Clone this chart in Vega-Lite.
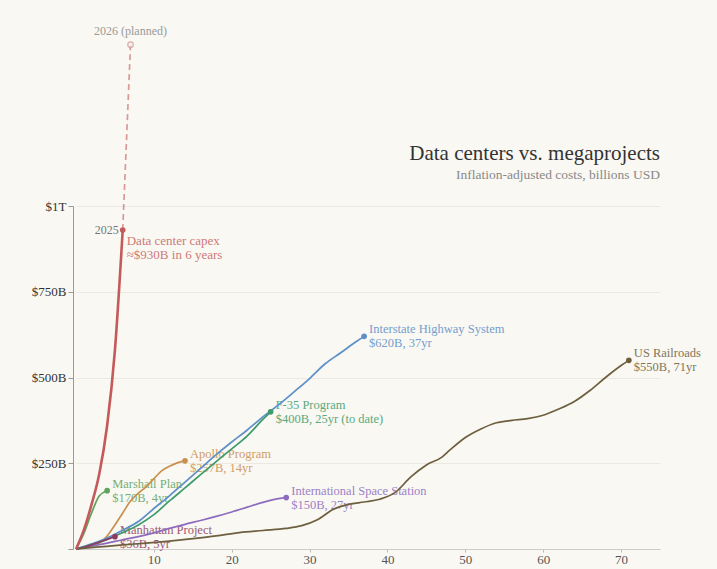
{
  "$schema": "https://vega.github.io/schema/vega-lite/v6.json",
  "width": 584,
  "height": 343,
  "autosize": {"type": "none"},
  "padding": {"left": 76, "top": 206, "right": 57, "bottom": 20},
  "background": "#f9f8f3",
  "title": {
    "text": "Data centers vs. megaprojects",
    "subtitle": "Inflation-adjusted costs, billions USD",
    "anchor": "end",
    "frame": "group",
    "font": "Liberation Serif",
    "fontSize": 21,
    "fontWeight": "normal",
    "color": "#333333",
    "subtitleFont": "Liberation Serif",
    "subtitleFontSize": 13.5,
    "subtitleColor": "#888888",
    "subtitlePadding": 4,
    "offset": -157
  },
  "config": {
    "view": {"stroke": null},
    "axis": {"labelFont": "Liberation Serif", "title": null}
  },
  "datasets": {
    "lines": [
      {"project": "Data center capex", "year": 0, "value": 0},
      {"project": "Data center capex", "year": 1, "value": 55},
      {"project": "Data center capex", "year": 2, "value": 130},
      {"project": "Data center capex", "year": 3, "value": 220},
      {"project": "Data center capex", "year": 4, "value": 360},
      {"project": "Data center capex", "year": 5, "value": 580},
      {"project": "Data center capex", "year": 6, "value": 930},
      {"project": "Marshall Plan", "year": 0, "value": 0},
      {"project": "Marshall Plan", "year": 1, "value": 45},
      {"project": "Marshall Plan", "year": 2, "value": 105},
      {"project": "Marshall Plan", "year": 3, "value": 155},
      {"project": "Marshall Plan", "year": 4, "value": 170},
      {"project": "Apollo Program", "year": 0, "value": 0},
      {"project": "Apollo Program", "year": 1, "value": 3},
      {"project": "Apollo Program", "year": 2, "value": 8},
      {"project": "Apollo Program", "year": 3, "value": 18},
      {"project": "Apollo Program", "year": 4, "value": 38},
      {"project": "Apollo Program", "year": 5, "value": 70},
      {"project": "Apollo Program", "year": 6, "value": 105},
      {"project": "Apollo Program", "year": 7, "value": 140},
      {"project": "Apollo Program", "year": 8, "value": 163},
      {"project": "Apollo Program", "year": 9, "value": 181},
      {"project": "Apollo Program", "year": 10, "value": 205},
      {"project": "Apollo Program", "year": 11, "value": 228},
      {"project": "Apollo Program", "year": 12, "value": 241},
      {"project": "Apollo Program", "year": 13, "value": 251},
      {"project": "Apollo Program", "year": 14, "value": 257},
      {"project": "Interstate Highway System", "year": 0, "value": 0},
      {"project": "Interstate Highway System", "year": 2, "value": 15},
      {"project": "Interstate Highway System", "year": 4, "value": 32},
      {"project": "Interstate Highway System", "year": 6, "value": 55},
      {"project": "Interstate Highway System", "year": 8, "value": 80},
      {"project": "Interstate Highway System", "year": 10, "value": 118},
      {"project": "Interstate Highway System", "year": 12, "value": 155},
      {"project": "Interstate Highway System", "year": 14, "value": 195},
      {"project": "Interstate Highway System", "year": 16, "value": 235},
      {"project": "Interstate Highway System", "year": 18, "value": 275},
      {"project": "Interstate Highway System", "year": 20, "value": 312},
      {"project": "Interstate Highway System", "year": 22, "value": 347},
      {"project": "Interstate Highway System", "year": 24, "value": 385},
      {"project": "Interstate Highway System", "year": 26, "value": 420},
      {"project": "Interstate Highway System", "year": 28, "value": 458},
      {"project": "Interstate Highway System", "year": 30, "value": 497},
      {"project": "Interstate Highway System", "year": 32, "value": 540},
      {"project": "Interstate Highway System", "year": 34, "value": 572},
      {"project": "Interstate Highway System", "year": 36, "value": 605},
      {"project": "Interstate Highway System", "year": 37, "value": 620},
      {"project": "F-35 Program", "year": 0, "value": 0},
      {"project": "F-35 Program", "year": 2, "value": 12},
      {"project": "F-35 Program", "year": 4, "value": 28},
      {"project": "F-35 Program", "year": 6, "value": 48},
      {"project": "F-35 Program", "year": 8, "value": 70},
      {"project": "F-35 Program", "year": 10, "value": 100},
      {"project": "F-35 Program", "year": 12, "value": 140},
      {"project": "F-35 Program", "year": 14, "value": 178},
      {"project": "F-35 Program", "year": 16, "value": 217},
      {"project": "F-35 Program", "year": 18, "value": 255},
      {"project": "F-35 Program", "year": 20, "value": 292},
      {"project": "F-35 Program", "year": 22, "value": 330},
      {"project": "F-35 Program", "year": 24, "value": 378},
      {"project": "F-35 Program", "year": 25, "value": 400},
      {"project": "International Space Station", "year": 0, "value": 0},
      {"project": "International Space Station", "year": 2, "value": 8},
      {"project": "International Space Station", "year": 4, "value": 17},
      {"project": "International Space Station", "year": 6, "value": 27},
      {"project": "International Space Station", "year": 8, "value": 36},
      {"project": "International Space Station", "year": 10, "value": 47},
      {"project": "International Space Station", "year": 12, "value": 60},
      {"project": "International Space Station", "year": 14, "value": 72},
      {"project": "International Space Station", "year": 16, "value": 83},
      {"project": "International Space Station", "year": 18, "value": 95},
      {"project": "International Space Station", "year": 20, "value": 108},
      {"project": "International Space Station", "year": 22, "value": 122},
      {"project": "International Space Station", "year": 24, "value": 136},
      {"project": "International Space Station", "year": 26, "value": 147},
      {"project": "International Space Station", "year": 27, "value": 150},
      {"project": "Manhattan Project", "year": 0, "value": 0},
      {"project": "Manhattan Project", "year": 1, "value": 5},
      {"project": "Manhattan Project", "year": 2, "value": 12},
      {"project": "Manhattan Project", "year": 3, "value": 20},
      {"project": "Manhattan Project", "year": 4, "value": 28},
      {"project": "Manhattan Project", "year": 5, "value": 36},
      {"project": "US Railroads", "year": 0, "value": 0},
      {"project": "US Railroads", "year": 3, "value": 6},
      {"project": "US Railroads", "year": 6, "value": 12},
      {"project": "US Railroads", "year": 9, "value": 17},
      {"project": "US Railroads", "year": 12, "value": 23},
      {"project": "US Railroads", "year": 15, "value": 30},
      {"project": "US Railroads", "year": 18, "value": 38},
      {"project": "US Railroads", "year": 21, "value": 48},
      {"project": "US Railroads", "year": 24, "value": 54},
      {"project": "US Railroads", "year": 27, "value": 60},
      {"project": "US Railroads", "year": 29, "value": 68},
      {"project": "US Railroads", "year": 31, "value": 85},
      {"project": "US Railroads", "year": 33, "value": 115},
      {"project": "US Railroads", "year": 35, "value": 130},
      {"project": "US Railroads", "year": 37, "value": 137},
      {"project": "US Railroads", "year": 39, "value": 145},
      {"project": "US Railroads", "year": 41, "value": 165},
      {"project": "US Railroads", "year": 43, "value": 210},
      {"project": "US Railroads", "year": 45, "value": 245},
      {"project": "US Railroads", "year": 47, "value": 268},
      {"project": "US Railroads", "year": 48, "value": 288},
      {"project": "US Railroads", "year": 50, "value": 325},
      {"project": "US Railroads", "year": 52, "value": 350},
      {"project": "US Railroads", "year": 54, "value": 368},
      {"project": "US Railroads", "year": 56, "value": 375},
      {"project": "US Railroads", "year": 58, "value": 380},
      {"project": "US Railroads", "year": 60, "value": 390},
      {"project": "US Railroads", "year": 62, "value": 408},
      {"project": "US Railroads", "year": 64, "value": 430},
      {"project": "US Railroads", "year": 66, "value": 462},
      {"project": "US Railroads", "year": 68, "value": 500},
      {"project": "US Railroads", "year": 70, "value": 535},
      {"project": "US Railroads", "year": 71, "value": 550}
    ],
    "ends": [
      {"project": "Data center capex", "year": 6, "value": 930, "l1": "Data center capex", "l2": "≈$930B in 6 years"},
      {"project": "Marshall Plan", "year": 4, "value": 170, "l1": "Marshall Plan", "l2": "$170B, 4yr"},
      {"project": "Apollo Program", "year": 14, "value": 257, "l1": "Apollo Program", "l2": "$257B, 14yr"},
      {"project": "Interstate Highway System", "year": 37, "value": 620, "l1": "Interstate Highway System", "l2": "$620B, 37yr"},
      {"project": "F-35 Program", "year": 25, "value": 400, "l1": "F-35 Program", "l2": "$400B, 25yr (to date)"},
      {"project": "International Space Station", "year": 27, "value": 150, "l1": "International Space Station", "l2": "$150B, 27yr"},
      {"project": "Manhattan Project", "year": 5, "value": 36, "l1": "Manhattan Project", "l2": "$36B, 5yr"},
      {"project": "US Railroads", "year": 71, "value": 550, "l1": "US Railroads", "l2": "$550B, 71yr"}
    ],
    "planned": [
      {"project": "Data center capex", "year": 6, "value": 930, "label": "2025"},
      {"project": "Data center capex", "year": 7, "value": 1470, "label": "2026 (planned)"}
    ]
  },
  "encoding": {
    "x": {
      "field": "year", "type": "quantitative",
      "scale": {"domain": [0, 75], "nice": false, "zero": false},
      "axis": {
        "values": [10, 20, 30, 40, 50, 60, 70],
        "grid": false,
        "labelFontSize": 13,
        "labelColor": "#555555",
        "tickSize": 3,
        "tickColor": "#bbbbbb",
        "domainColor": "#cccccc",
        "labelPadding": 1
      }
    },
    "y": {
      "field": "value", "type": "quantitative",
      "scale": {"domain": [0, 1000], "nice": false},
      "axis": {
        "values": [0, 250, 500, 750, 1000],
        "labelExpr": "datum.value == 1000 ? '$1T' : datum.value == 0 ? '' : '$' + datum.value + 'B'",
        "labelFontSize": 13,
        "labelColor": "#333333",
        "tickSize": 5,
        "tickColor": "#999999",
        "domainColor": "#999999",
        "gridColor": "#ebe9e2",
        "offset": 3,
        "labelPadding": 2
      }
    },
    "color": {
      "field": "project", "type": "nominal", "legend": null,
      "scale": {
        "domain": ["Data center capex", "Marshall Plan", "Apollo Program", "Interstate Highway System", "F-35 Program", "International Space Station", "Manhattan Project", "US Railroads"],
        "range": ["#c45a5a", "#5fa35f", "#c98f4e", "#5d8fc8", "#3e9b6b", "#8d6cbf", "#8e3b5f", "#6e5f3f"]
      }
    }
  },
  "layer": [
    {
      "data": {"name": "ends"},
      "transform": [{"filter": "datum.project != 'Data center capex'"}],
      "mark": {"type": "text", "align": "left", "baseline": "middle", "dx": 5, "dy": -7, "font": "Liberation Serif", "fontSize": 12.5, "opacity": 0.85},
      "encoding": {"text": {"field": "l1"}}
    },
    {
      "data": {"name": "ends"},
      "transform": [{"filter": "datum.project != 'Data center capex'"}],
      "mark": {"type": "text", "align": "left", "baseline": "middle", "dx": 5, "dy": 7, "font": "Liberation Serif", "fontSize": 12.5, "opacity": 0.85},
      "encoding": {"text": {"field": "l2"}}
    },
    {
      "data": {"name": "ends"},
      "transform": [{"filter": "datum.project == 'Data center capex'"}],
      "mark": {"type": "text", "align": "left", "baseline": "middle", "dx": 4, "dy": 11, "font": "Liberation Serif", "fontSize": 13, "opacity": 0.8},
      "encoding": {"text": {"field": "l1"}}
    },
    {
      "data": {"name": "ends"},
      "transform": [{"filter": "datum.project == 'Data center capex'"}],
      "mark": {"type": "text", "align": "left", "baseline": "middle", "dx": 4, "dy": 25, "font": "Liberation Serif", "fontSize": 13, "opacity": 0.8},
      "encoding": {"text": {"field": "l2"}}
    },
    {
      "data": {"name": "planned"},
      "mark": {"type": "line", "strokeDash": [6, 4], "strokeWidth": 1.7, "opacity": 0.6},
      "encoding": {}
    },
    {
      "data": {"name": "planned"},
      "transform": [{"filter": "datum.year == 7"}],
      "mark": {"type": "point", "filled": true, "fill": "#f9f8f3", "stroke": "#d59a9a", "strokeWidth": 1.4, "size": 30},
      "encoding": {"color": {"value": "#d59a9a"}}
    },
    {
      "data": {"name": "planned"},
      "transform": [{"filter": "datum.year == 7"}],
      "mark": {"type": "text", "align": "center", "baseline": "bottom", "dy": -7, "font": "Liberation Serif", "fontSize": 12},
      "encoding": {"text": {"field": "label"}, "color": {"value": "#999999"}}
    },
    {
      "data": {"name": "planned"},
      "transform": [{"filter": "datum.year == 6"}],
      "mark": {"type": "text", "align": "right", "baseline": "middle", "dx": -4, "font": "Liberation Serif", "fontSize": 12},
      "encoding": {"text": {"field": "label"}, "color": {"value": "#777777"}}
    },
    {
      "data": {"name": "lines"},
      "transform": [{"filter": "datum.project != 'Data center capex'"}],
      "mark": {"type": "line", "interpolate": "monotone", "strokeWidth": 1.7},
      "encoding": {"detail": {"field": "project"}}
    },
    {
      "data": {"name": "lines"},
      "transform": [{"filter": "datum.project == 'Data center capex'"}],
      "mark": {"type": "line", "interpolate": "monotone", "strokeWidth": 2.6},
      "encoding": {}
    },
    {
      "data": {"name": "ends"},
      "mark": {"type": "circle", "size": 32, "opacity": 1},
      "encoding": {}
    }
  ]
}
